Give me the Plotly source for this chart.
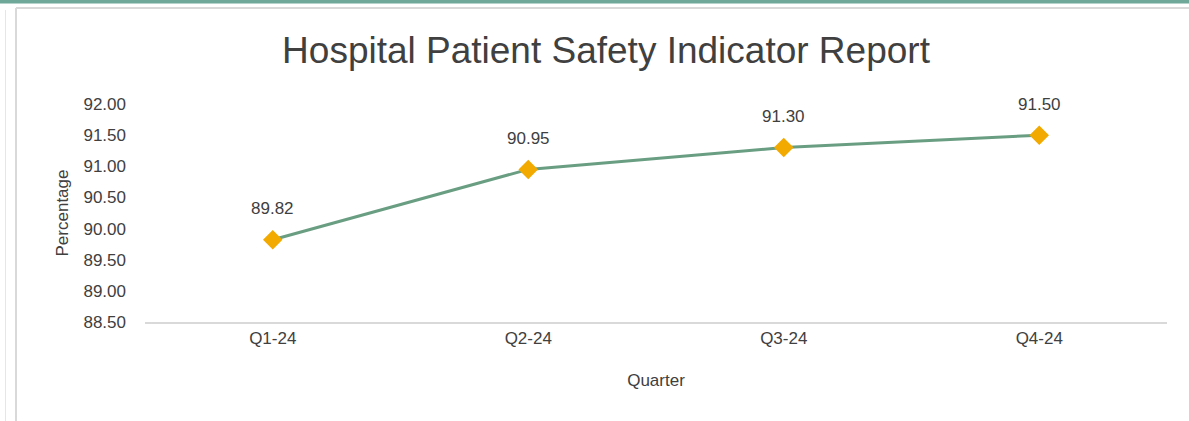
import plotly.graph_objects as go

quarters = ["Q1-24", "Q2-24", "Q3-24", "Q4-24"]
values = [89.82, 90.95, 91.30, 91.50]
y_ticks = [88.5, 89.0, 89.5, 90.0, 90.5, 91.0, 91.5, 92.0]

W, H = 1189, 421
L, R, T, B = 145, 22, 104, 99
PW, PH = W - L - R, H - T - B


def px(x):
    return (x - L) / PW


def py(y):
    return (H - B - y) / PH


FONT = "Liberation Sans, Arial, sans-serif"
TXT = "#404040"

fig = go.Figure()
fig.add_trace(go.Scatter(
    x=quarters, y=values, mode="lines+markers",
    line=dict(color="#6A9E82", width=3),
    marker=dict(symbol="diamond", size=15, color="#F2AA00"),
    hoverinfo="x+y", showlegend=False,
))

annotations = [
    dict(x=q, y=v, text=f"{v:.2f}", showarrow=False, yshift=31,
         font=dict(family=FONT, size=17, color=TXT))
    for q, v in zip(quarters, values)
]

shapes = [
    dict(type="rect", xref="paper", yref="paper", x0=px(0), x1=px(W), y0=py(0), y1=py(3.5),
         fillcolor="#6FA898", line_width=0, layer="below"),
    dict(type="line", xref="paper", yref="paper", x0=px(16), x1=px(W), y0=py(8), y1=py(8),
         line=dict(color="#D9D9D9", width=2), layer="below"),
    dict(type="line", xref="paper", yref="paper", x0=px(16), x1=px(16), y0=py(8), y1=py(H),
         line=dict(color="#D9D9D9", width=2), layer="below"),
    dict(type="line", xref="paper", yref="paper", x0=px(5.5), x1=px(5.5), y0=py(10), y1=py(H),
         line=dict(color="#E6E6E6", width=1), layer="below"),
]

fig.update_layout(
    width=W, height=H,
    margin=dict(l=L, r=R, t=T, b=B),
    paper_bgcolor="white", plot_bgcolor="white",
    title=dict(text="Hospital Patient Safety Indicator Report", x=606 / W, xanchor="center",
               y=1 - 50 / H, yanchor="middle",
               font=dict(family=FONT, size=37, color=TXT)),
    xaxis=dict(type="category", range=[-0.5, 3.5], showgrid=False, zeroline=False,
               showline=True, linecolor="#D9D9D9", linewidth=2, ticks="",
               tickfont=dict(family=FONT, size=17, color=TXT),
               title=dict(text="Quarter", font=dict(family=FONT, size=17, color=TXT), standoff=27)),
    yaxis=dict(range=[88.5, 92.0], tickvals=y_ticks, ticktext=[f"{t:.2f}" for t in y_ticks],
               showgrid=False, zeroline=False, showline=False, ticks="",
               tickfont=dict(family=FONT, size=17, color=TXT), ticklabelstandoff=18,
               title=dict(text="Percentage", font=dict(family=FONT, size=17, color=TXT), standoff=10)),
    annotations=annotations,
    shapes=shapes,
)

fig.write_html("out.html", config={"displayModeBar": False},
               post_script="document.body.style.margin='0';document.body.style.padding='0';")
